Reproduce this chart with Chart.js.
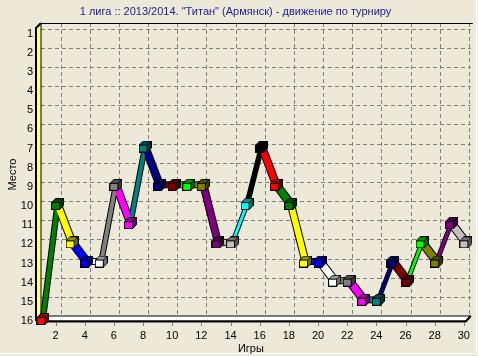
<!DOCTYPE html>
<html>
<head>
<meta charset="utf-8">
<script src="https://cdn.jsdelivr.net/npm/chart.js@4.4.0/dist/chart.umd.min.js"></script>
<style>
body{margin:0;background:#ECE9D8;}
canvas{display:block;}
</style>
</head>
<body>
<canvas id="place-chart" width="478" height="356"></canvas>
<script>
// games (x) and place in the table after each game (y, 1 = top)
var games=[1,2,3,4,5,6,7,8,9,10,11,12,13,14,15,16,17,18,19,20,21,22,23,24,25,26,27,28,29,30];
var places=[16,10,12,13,13,9,11,7,9,9,9,9,12,12,10,7,9,10,13,13,14,14,15,15,13,14,12,13,11,12];
var place_ticks=[1,2,3,4,5,6,7,8,9,10,11,12,13,14,15,16];
var game_ticks=[2,4,6,8,10,12,14,16,18,20,22,24,26,28,30];

// teechart-like colour cycle, one per point
var palette=['#FF0000','#008000','#FFFF00','#0000FF','#FFFFFF','#808080','#FF00FF','#008080',
             '#000080','#800000','#00FF00','#808000','#800080','#C0C0C0','#00FFFF','#000000'];

var depth_x=5, depth_y=-5;
var font_family='"Liberation Sans", Arial, sans-serif';

function shade(hex,k){
    var r=parseInt(hex.substr(1,2),16), g=parseInt(hex.substr(3,2),16), b=parseInt(hex.substr(5,2),16);
    return 'rgb('+Math.round(r*k)+','+Math.round(g*k)+','+Math.round(b*k)+')';
}

// small 3d cube used as point marker
function make_cube(color){
    var c=document.createElement('canvas');
    c.width=13; c.height=12;
    var g=c.getContext('2d');
    g.strokeStyle='#000';
    g.lineWidth=1;
    g.fillStyle=shade(color,0.6);
    g.beginPath(); g.moveTo(0.5,4.5); g.lineTo(8.5,4.5); g.lineTo(12.5,0.5); g.lineTo(4.5,0.5); g.closePath();
    g.fill(); g.stroke();
    g.fillStyle=shade(color,0.45);
    g.beginPath(); g.moveTo(8.5,4.5); g.lineTo(12.5,0.5); g.lineTo(12.5,7.5); g.lineTo(8.5,11.5); g.closePath();
    g.fill(); g.stroke();
    g.fillStyle=color;
    g.fillRect(0.5,4.5,8,7);
    g.strokeRect(0.5,4.5,8,7);
    return c;
}
var cubes=palette.map(make_cube);

// visible width of a ribbon with depth offset
function ribbon_width(ctx){
    var dx=ctx.p1.x-ctx.p0.x, dy=ctx.p1.y-ctx.p0.y;
    var len=Math.sqrt(dx*dx+dy*dy)||1;
    return Math.max(Math.abs(dx*depth_y-dy*depth_x)/len,1.5);
}

var points=games.map(function(g,i){ return {x:g,y:places[i]}; });

var box3d={
    id:'box3d',
    beforeDraw:function(chart){
        var c=chart.ctx, a=chart.chartArea, xs=chart.scales.x, ys=chart.scales.y;
        var L=a.left, R=a.right, T=a.top, B=a.bottom;
        c.save();
        c.fillStyle='#ECE9D8';
        c.fillRect(0,0,chart.width,chart.height);
        // panel bevel
        c.strokeStyle='#FFFFFF';
        c.lineWidth=1;
        c.beginPath(); c.moveTo(476.5,0); c.lineTo(476.5,353.5); c.lineTo(0,353.5); c.stroke();
        // back wall grid
        c.strokeStyle='#808080';
        c.lineWidth=1;
        c.setLineDash([4,3]);
        place_ticks.forEach(function(v){
            var y=Math.round(ys.getPixelForValue(v)+depth_y)+0.5;
            c.beginPath(); c.moveTo(L+depth_x,y); c.lineTo(R+depth_x,y); c.stroke();
        });
        game_ticks.forEach(function(v){
            var x=Math.round(xs.getPixelForValue(v)+depth_x)+0.5;
            c.beginPath(); c.moveTo(x,T+depth_y); c.lineTo(x,B+depth_y); c.stroke();
        });
        c.setLineDash([]);
        // top edge of back wall
        c.strokeStyle='#000';
        c.beginPath(); c.moveTo(L+depth_x,Math.round(T+depth_y)+0.5); c.lineTo(R+depth_x+2,Math.round(T+depth_y)+0.5); c.stroke();
        // left wall
        c.fillStyle='#FFFF80';
        c.beginPath(); c.moveTo(L,B); c.lineTo(L,T); c.lineTo(L+depth_x,T+depth_y); c.lineTo(L+depth_x,B+depth_y); c.closePath();
        c.fill(); c.stroke();
        c.lineWidth=2;
        c.beginPath(); c.moveTo(L,B); c.lineTo(L,T); c.lineTo(L+depth_x,T+depth_y); c.stroke();
        // floor
        c.lineWidth=1;
        c.fillStyle='#FFFFFF';
        c.beginPath(); c.moveTo(L,B); c.lineTo(R,B); c.lineTo(R+depth_x,B+depth_y); c.lineTo(L+depth_x,B+depth_y); c.closePath();
        c.fill(); c.stroke();
        c.lineWidth=2;
        c.beginPath(); c.moveTo(L,B+0.5); c.lineTo(R,B+0.5); c.lineTo(R+depth_x,B+depth_y); c.stroke();
        // tick marks
        c.lineWidth=1;
        c.strokeStyle='#808080';
        game_ticks.forEach(function(v){
            var x=Math.round(xs.getPixelForValue(v))+0.5;
            c.beginPath(); c.moveTo(x,B+2); c.lineTo(x,B+5); c.stroke();
        });
        c.restore();
    },
    beforeDatasetsDraw:function(chart){
        chart.ctx.save();
        chart.ctx.translate(2,-2);
    },
    afterDatasetsDraw:function(chart){
        chart.ctx.restore();
    }
};

var chartid=document.getElementById('place-chart').getContext('2d');

var myChart=new Chart(chartid,{
    type:'line',
    data:{
        datasets:[
            {
                data:points,
                borderColor:'#000',
                pointRadius:0,
                segment:{
                    borderColor:'#000',
                    borderWidth:function(ctx){ return ribbon_width(ctx)+2; }
                },
                clip:false,
                order:2
            },
            {
                data:points,
                borderColor:palette[1],
                pointStyle:games.map(function(g,i){ return cubes[i%16]; }),
                pointRadius:6,
                segment:{
                    borderColor:function(ctx){ return palette[ctx.p1DataIndex%16]; },
                    borderWidth:function(ctx){ return ribbon_width(ctx); }
                },
                clip:false,
                order:1
            }
        ]
    },
    options:{
        responsive:false,
        animation:false,
        devicePixelRatio:1,
        layout:{padding:{left:0,right:7,top:0,bottom:0}},
        plugins:{
            legend:{display:false},
            tooltip:{enabled:false},
            title:{
                display:true,
                text:'1 лига :: 2013/2014. "Титан" (Армянск) - движение по турниру',
                color:'#1C1C90',
                font:{family:font_family,size:11,weight:'normal'},
                padding:{top:5,bottom:9.8}
            }
        },
        scales:{
            x:{
                type:'linear',
                min:0.661,
                max:30.13,
                grid:{display:false,drawTicks:false},
                border:{display:false},
                afterBuildTicks:function(s){ s.ticks=game_ticks.map(function(v){ return {value:v}; }); },
                afterFit:function(s){ s.height=35; },
                ticks:{color:'#000',font:{family:font_family,size:11},padding:8,autoSkip:false,maxRotation:0},
                title:{display:true,text:'Игры',color:'#000',font:{family:font_family,size:11},padding:{top:0,bottom:0}}
            },
            y:{
                type:'linear',
                reverse:true,
                min:0.71,
                max:16,
                grid:{display:false,drawTicks:false},
                border:{display:false},
                afterBuildTicks:function(s){ s.ticks=place_ticks.map(function(v){ return {value:v}; }); },
                afterFit:function(s){ s.width=36; },
                ticks:{color:'#000',font:{family:font_family,size:11},padding:3,autoSkip:false},
                title:{display:true,text:'Место',color:'#000',font:{family:font_family,size:11},padding:{top:6,bottom:0}}
            }
        }
    },
    plugins:[box3d]
});
</script>
</body>
</html>
